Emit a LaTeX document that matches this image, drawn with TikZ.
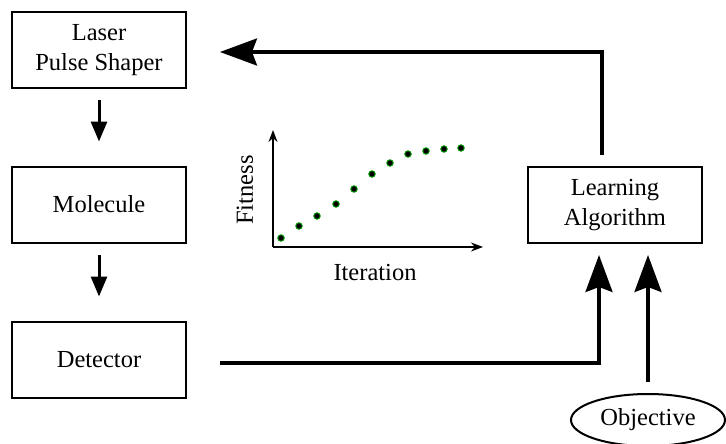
\documentclass[tikz,border=0pt]{standalone}
\usepackage{fontspec}
\setmainfont{Liberation Serif}
\usetikzlibrary{arrows.meta,shapes.geometric,positioning}

\begin{document}
\begin{tikzpicture}[x=1pt,y=-1pt,
	font=\fontsize{24.5}{30}\selectfont,
	block/.style={draw, line width=2pt, minimum width=174pt, minimum height=76pt, align=center, inner sep=0pt},
	goal/.style={draw, ellipse, line width=2pt, minimum width=154pt, minimum height=52pt, inner sep=0pt},
	flow/.style={line width=3pt, -{Triangle[length=20pt,width=16pt]}},
	feed/.style={line width=3.2pt, -{Stealth[length=37pt,width=27pt,inset=5pt]}},
	axis/.style={line width=1.3pt, -{Stealth[length=12pt,width=9pt]}},
	dot/.style={circle, fill=black, draw=green!60!black, line width=0.9pt, inner sep=0pt, minimum size=6.5pt}]
	\useasboundingbox (0,0) rectangle (726,444);
	% blocks
	\node[block] (laser) at (99,50) {Laser\\Pulse Shaper};
	\node[block, below=76.5pt of laser] (mol) {Molecule};
	\node[block, below=77pt of mol] (det) {Detector};
	\node[block] (learn) at (615,205) {Learning\\Algorithm};
	\node[goal] (obj) at (648,420) {Objective};
	% forward chain
	\draw[flow, shorten <=11pt, shorten >=24pt] (laser) -- (mol);
	\draw[flow, shorten <=11pt, shorten >=24pt] (mol) -- (det);
	% feedback loop
	\draw[feed] ([xshift=33pt,yshift=-3.5pt]det.east) -| ([xshift=-16pt,yshift=-11pt]learn.south);
	\draw[feed] ([yshift=11pt]obj.north) -- ([yshift=-11pt]obj.north |- learn.south);
	\draw[feed] ([xshift=-13pt,yshift=11pt]learn.north) |- ([xshift=33pt,yshift=-2pt]laser.east);
	% fitness plot
	\coordinate (orig) at (273,247);
	\draw[axis] (orig) -- (273,130);
	\draw[axis] (orig) -- (483,247);
	\node[rotate=90] (fit) at (245,190) {Fitness};
	\node (iter) at (375,273) {Iteration};
	\foreach \px/\py in {281/238, 299/226, 317/216, 336/204, 354/189, 372/174, 390/163, 408/154, 426/151, 444/149, 461/148}
		\node[dot] at (\px,\py) {};
\end{tikzpicture}
\end{document}
